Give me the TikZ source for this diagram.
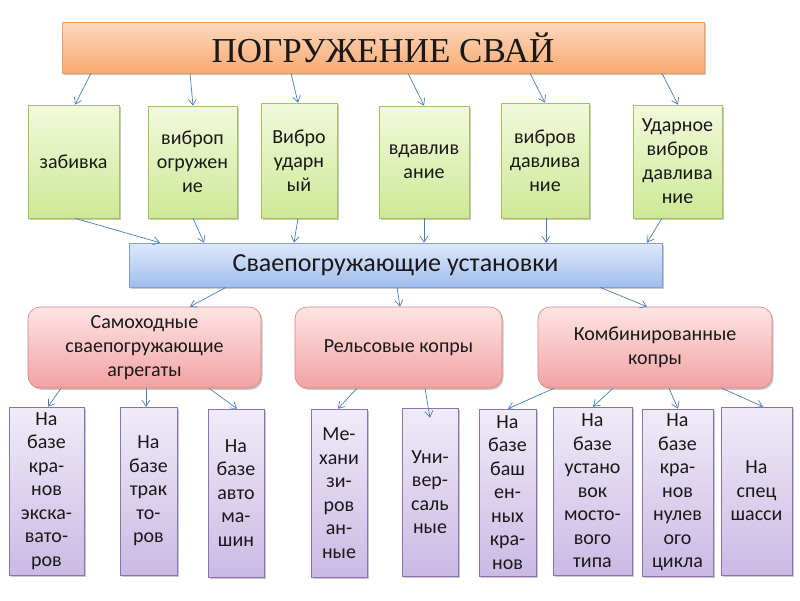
\documentclass[tikz,border=0pt]{standalone}
\usepackage{fontspec}
\setmainfont{Carlito}
\newfontfamily\titlefont{Liberation Serif}
\usetikzlibrary{arrows.meta,shadows,calc}
\definecolor{orTop}{RGB}{252,216,190}
\definecolor{orBot}{RGB}{248,170,112}
\definecolor{orLine}{RGB}{240,160,100}
\definecolor{grTop}{RGB}{242,249,220}
\definecolor{grBot}{RGB}{206,232,150}
\definecolor{grLine}{RGB}{160,196,96}
\definecolor{blTop}{RGB}{222,232,250}
\definecolor{blBot}{RGB}{160,190,236}
\definecolor{blLine}{RGB}{130,160,215}
\definecolor{pkTop}{RGB}{253,228,228}
\definecolor{pkBot}{RGB}{242,162,162}
\definecolor{pkLine}{RGB}{215,130,128}
\definecolor{puTop}{RGB}{240,235,248}
\definecolor{puBot}{RGB}{202,186,228}
\definecolor{puLine}{RGB}{140,115,175}
\definecolor{arrCol}{RGB}{74,126,187}
\begin{document}
\begin{tikzpicture}[x=1pt,y=-1pt,
  box/.style={draw, line width=0.6pt, inner sep=0pt, align=center, text=black!90,
    drop shadow={shadow xshift=1.5pt, shadow yshift=-1.8pt, opacity=0.3, fill=black!70}},
  titlebox/.style={box, top color=orTop, bottom color=orBot, draw=orLine,
    font=\titlefont\fontsize{35}{40}\selectfont},
  greenbox/.style={box, top color=grTop, bottom color=grBot, draw=grLine,
    font=\fontsize{20}{24}\selectfont},
  bluebox/.style={box, top color=blTop, bottom color=blBot, draw=blLine,
    font=\fontsize{26}{30}\selectfont},
  pinkbox/.style={box, rounded corners=12pt, top color=pkTop, bottom color=pkBot, draw=pkLine,
    font=\fontsize{20}{24}\selectfont},
  purplebox/.style={box, top color=puTop, bottom color=puBot, draw=puLine,
    font=\fontsize{20}{23.5}\selectfont},
  arr/.style={draw=arrCol, line width=0.7pt, -{Straight Barb[length=6pt,width=8pt]}}
]
\useasboundingbox[fill=white] (0,0) rectangle (800,600);

% title
\node[titlebox, minimum width=642pt, minimum height=51pt] (T) at (383,47.5) {ПОГРУЖЕНИЕ СВАЙ};

% green row
\node[greenbox, minimum width=91pt, minimum height=113pt] (g1) at (73.5,161.5) {забивка};
\node[greenbox, minimum width=89pt, minimum height=112pt] (g2) at (192.5,162) {виброп\\огружен\\ие};
\node[greenbox, minimum width=76pt, minimum height=115pt] (g3) at (299,160.5) {Вибро\\ударн\\ый};
\node[greenbox, minimum width=90pt, minimum height=112pt] (g4) at (424,162) {вдавлив\\ание};
\node[greenbox, minimum width=88pt, minimum height=115pt] (g5) at (545,160.5) {вибров\\давлива\\ние};
\node[greenbox, minimum width=89pt, minimum height=113pt] (g6) at (677.5,161.5) {Ударное\\вибров\\давлива\\ние};

% blue
\node[bluebox, minimum width=533pt, minimum height=44pt] (B) at (395.5,265) {Сваепогружающие установки};

% pink
\node[pinkbox, minimum width=233pt, minimum height=81pt] (p1) at (144.5,347.5) {Самоходные\\сваепогружающие\\агрегаты};
\node[pinkbox, minimum width=207pt, minimum height=81pt] (p2) at (398.5,347.5) {Рельсовые копры};
\node[pinkbox, minimum width=234pt, minimum height=81pt] (p3) at (655,347.5) {Комбинированные\\копры};

% purple
\node[purplebox, minimum width=75pt, minimum height=168pt] (u1) at (46.5,491) {На\\базе\\кра-\\нов\\экска-\\вато-\\ров};
\node[purplebox, minimum width=57pt, minimum height=168pt] (u2) at (148.5,491) {На\\базе\\трак\\то-\\ров};
\node[purplebox, minimum width=56pt, minimum height=168pt] (u3) at (236,493) {На\\базе\\авто\\ма-\\шин};
\node[purplebox, minimum width=56pt, minimum height=168pt] (u4) at (339,493) {Ме-\\хани\\зи-\\ров\\ан-\\ные};
\node[purplebox, minimum width=56pt, minimum height=168pt] (u5) at (430,492) {Уни-\\вер-\\саль\\ные};
\node[purplebox, minimum width=57pt, minimum height=167pt] (u6) at (507.5,492.5) {На\\базе\\баш\\ен-\\ных\\кра-\\нов};
\node[purplebox, minimum width=79pt, minimum height=168pt] (u7) at (592.5,491) {На\\базе\\устано\\вок\\мосто-\\вого\\типа};
\node[purplebox, minimum width=71pt, minimum height=167pt] (u8) at (677.5,492.5) {На\\базе\\кра-\\нов\\нулев\\ого\\цикла};
\node[purplebox, minimum width=71pt, minimum height=168pt] (u9) at (756.5,491) {На\\спец\\шасси};

% title -> green
\draw[arr] ([xshift=-292pt]T.south) -- ([xshift=1.5pt]g1.north);
\draw[arr] ([xshift=-193pt]T.south) -- ([xshift=0.5pt]g2.north);
\draw[arr] ([xshift=-92pt]T.south) -- ([xshift=-1pt]g3.north);
\draw[arr] ([xshift=25pt]T.south) -- (g4.north);
\draw[arr] ([xshift=147pt]T.south) -- (g5.north);
\draw[arr] ([xshift=279pt]T.south) -- ([xshift=0.5pt]g6.north);

% green -> blue
\draw[arr] ([xshift=1.5pt]g1.south) -- ([xshift=-235.5pt]B.north);
\draw[arr] ([xshift=0.5pt]g2.south) -- ([xshift=-191.5pt]B.north);
\draw[arr] ([xshift=-1pt]g3.south) -- ([xshift=-101.5pt]B.north);
\draw[arr] (g4.south) -- ([xshift=28.5pt]B.north);
\draw[arr] ([xshift=1pt]g5.south) -- ([xshift=150.5pt]B.north);
\draw[arr] ([xshift=-15.5pt]g6.south) -- ([xshift=251.5pt]B.north);

% blue -> pink
\draw[arr] ([xshift=-169.5pt]B.south) -- ([xshift=45.5pt]p1.north);
\draw[arr] ([xshift=1.5pt]B.south) -- ([xshift=1.5pt]p2.north);
\draw[arr] ([xshift=204.5pt]B.south) -- ([xshift=-8pt]p3.north);

% pink -> purple
\draw[arr] ([xshift=-83.5pt]p1.south) -- ([xshift=1.5pt]u1.north);
\draw[arr] ([xshift=1.5pt]p1.south) -- ([xshift=-2.5pt]u2.north);
\draw[arr] ([xshift=64.5pt]p1.south) -- ([xshift=1pt]u3.north);
\draw[arr] ([xshift=-41.5pt]p2.south) -- ([xshift=-1pt]u4.north);
\draw[arr] ([xshift=26.5pt]p2.south) -- ([yshift=-10pt]u5.north);
\draw[arr] ([xshift=-101pt]p3.south) -- ([xshift=0.5pt]u6.north);
\draw[arr] ([xshift=-42pt]p3.south) -- ([xshift=0.5pt]u7.north);
\draw[arr] ([xshift=14pt]p3.south) -- ([xshift=0.5pt]u8.north);
\draw[arr] ([xshift=67pt]p3.south) -- ([xshift=6.5pt]u9.north);
\end{tikzpicture}
\end{document}
